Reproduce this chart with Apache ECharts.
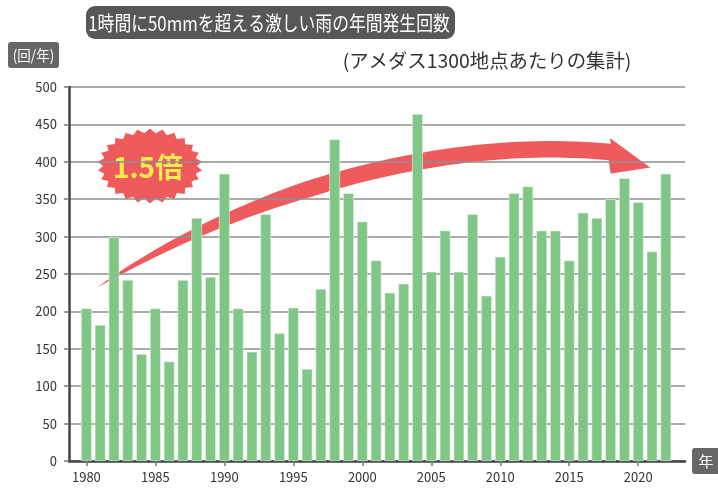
<!DOCTYPE html>
<html><head><meta charset="utf-8">
<script src="https://cdn.jsdelivr.net/npm/echarts@6/dist/echarts.min.js"></script>
<style>html,body{margin:0;padding:0;background:#fff}#c{width:718px;height:488px}</style>
</head><body><div id="c"></div>
<script>
const years = [1980,1981,1982,1983,1984,1985,1986,1987,1988,1989,1990,1991,1992,1993,1994,1995,1996,1997,1998,1999,2000,2001,2002,2003,2004,2005,2006,2007,2008,2009,2010,2011,2012,2013,2014,2015,2016,2017,2018,2019,2020,2021,2022];
const counts = [204,182,299,242,143,204,133,242,325,246,384,204,146,330,171,205,123,230,430,358,320,268,225,237,464,253,308,253,330,221,273,358,367,308,308,268,332,325,350,378,346,280,384];
const xTickLabels = [1980,1985,1990,1995,2000,2005,2010,2015,2020];
const titleText = '1時間に50mmを超える激しい雨の年間発生回数';
const unitText = '(回/年)';
const noteText = '(アメダス1300地点あたりの集計)';
const xUnitText = '年';
const badgeText = '1.5倍';

const RED = '#ef5a5d';
const FONT = '"Noto Sans CJK JP", "Noto Sans", sans-serif';

// decorative arrow geometry (pixel space)
function bez(p0,p1,p2,p3,t){const u=1-t;return [u*u*u*p0[0]+3*u*u*t*p1[0]+3*u*t*t*p2[0]+t*t*t*p3[0],u*u*u*p0[1]+3*u*u*t*p1[1]+3*u*t*t*p2[1]+t*t*t*p3[1]];}
function bezD(p0,p1,p2,p3,t){const u=1-t;return [3*u*u*(p1[0]-p0[0])+6*u*t*(p2[0]-p1[0])+3*t*t*(p3[0]-p2[0]),3*u*u*(p1[1]-p0[1])+6*u*t*(p2[1]-p1[1])+3*t*t*(p3[1]-p2[1])];}
function arrowPoints(){
  const P0=[92,291],P1=[230,200],P2=[430,135],P3=[609,152];
  const up=[],lo=[];const N=60;
  for(let i=0;i<=N;i++){const t=i/N;const p=bez(P0,P1,P2,P3,t);const d=bezD(P0,P1,P2,P3,t);
    const L=Math.hypot(d[0],d[1]);const nx=d[1]/L,ny=-d[0]/L;
    const w=18*Math.pow(Math.min(1,t/0.45),0.7)/2;
    up.push([p[0]+nx*w,p[1]+ny*w]);lo.push([p[0]-nx*w,p[1]-ny*w]);}
  return up.concat([[609,136.5],[652,168],[610,174.5]]).concat(lo.reverse());
}
function starPoints(cx,cy,rx,ry,irx,iry,n){const pts=[];for(let i=0;i<2*n;i++){const a=Math.PI*i/n-Math.PI/2;const o=i%2===0;pts.push([cx+(o?rx:irx)*Math.cos(a),cy+(o?ry:iry)*Math.sin(a)]);}return pts;}

const chart = echarts.init(document.getElementById('c'));
chart.setOption({
  animation:false,
  backgroundColor:'#fff',
  grid:{left:69,right:33,top:87,bottom:27,containLabel:false},
  xAxis:{type:'value',min:1978.74,max:2023.39,
    axisLine:{show:true,onZero:false,lineStyle:{color:'#444',width:2.5}},
    axisTick:{show:true,length:5,customValues:xTickLabels,lineStyle:{color:'#777',width:1.5}},
    axisLabel:{customValues:xTickLabels,formatter:v=>String(v),color:'#333',fontSize:13,fontFamily:FONT,margin:10},
    splitLine:{show:false}},
  yAxis:{type:'value',min:0,max:500,interval:50,
    axisLine:{show:true,lineStyle:{color:'#444',width:2.5}},
    axisTick:{show:true,length:5,lineStyle:{color:'#777',width:1.5}},
    axisLabel:{color:'#333',fontSize:13,fontFamily:FONT,margin:12},
    splitLine:{show:true,lineStyle:{color:'#8e8e92',width:1.5}}},
  series:[{type:'bar',data:years.map((y,i)=>[y,counts[i]]),barWidth:10.7,
    itemStyle:{color:'#80c686',borderColor:'#e6f4e7',borderWidth:0.6},z:2}],
  graphic:[
    {type:'group',z:100,children:[
      {type:'rect',shape:{x:86,y:6,width:369,height:33,r:9},style:{fill:'#575759'}},
      {type:'text',x:269,y:23,scaleX:0.84,style:{text:titleText,fill:'#fff',font:'20px '+FONT,align:'center',verticalAlign:'middle'}},
      {type:'rect',shape:{x:8,y:42,width:51,height:26,r:3},style:{fill:'#666669'}},
      {type:'text',x:33.5,y:55,scaleX:0.9,style:{text:unitText,fill:'#fff',font:'15px '+FONT,align:'center',verticalAlign:'middle'}},
      {type:'text',x:487,y:61,scaleX:1.02,style:{text:noteText,fill:'#333',font:'19px '+FONT,align:'center',verticalAlign:'middle'}},
      {type:'rect',shape:{x:692,y:448,width:32,height:26,r:3},style:{fill:'#666669'}},
      {type:'text',x:706,y:461,style:{text:xUnitText,fill:'#fff',font:'15px '+FONT,align:'center',verticalAlign:'middle'}},
      {type:'polygon',shape:{points:arrowPoints()},style:{fill:RED,stroke:'#fff',lineWidth:1.5}},
      {type:'polygon',shape:{points:starPoints(150,166,53,38,47.5,33.5,26)},style:{fill:RED,stroke:'#fff',lineWidth:1}},
      {type:'text',x:148,y:167,style:{text:badgeText,fill:'#fbec4e',font:'bold 28px '+FONT,align:'center',verticalAlign:'middle'}}
    ]}
  ]
});
</script></body></html>
